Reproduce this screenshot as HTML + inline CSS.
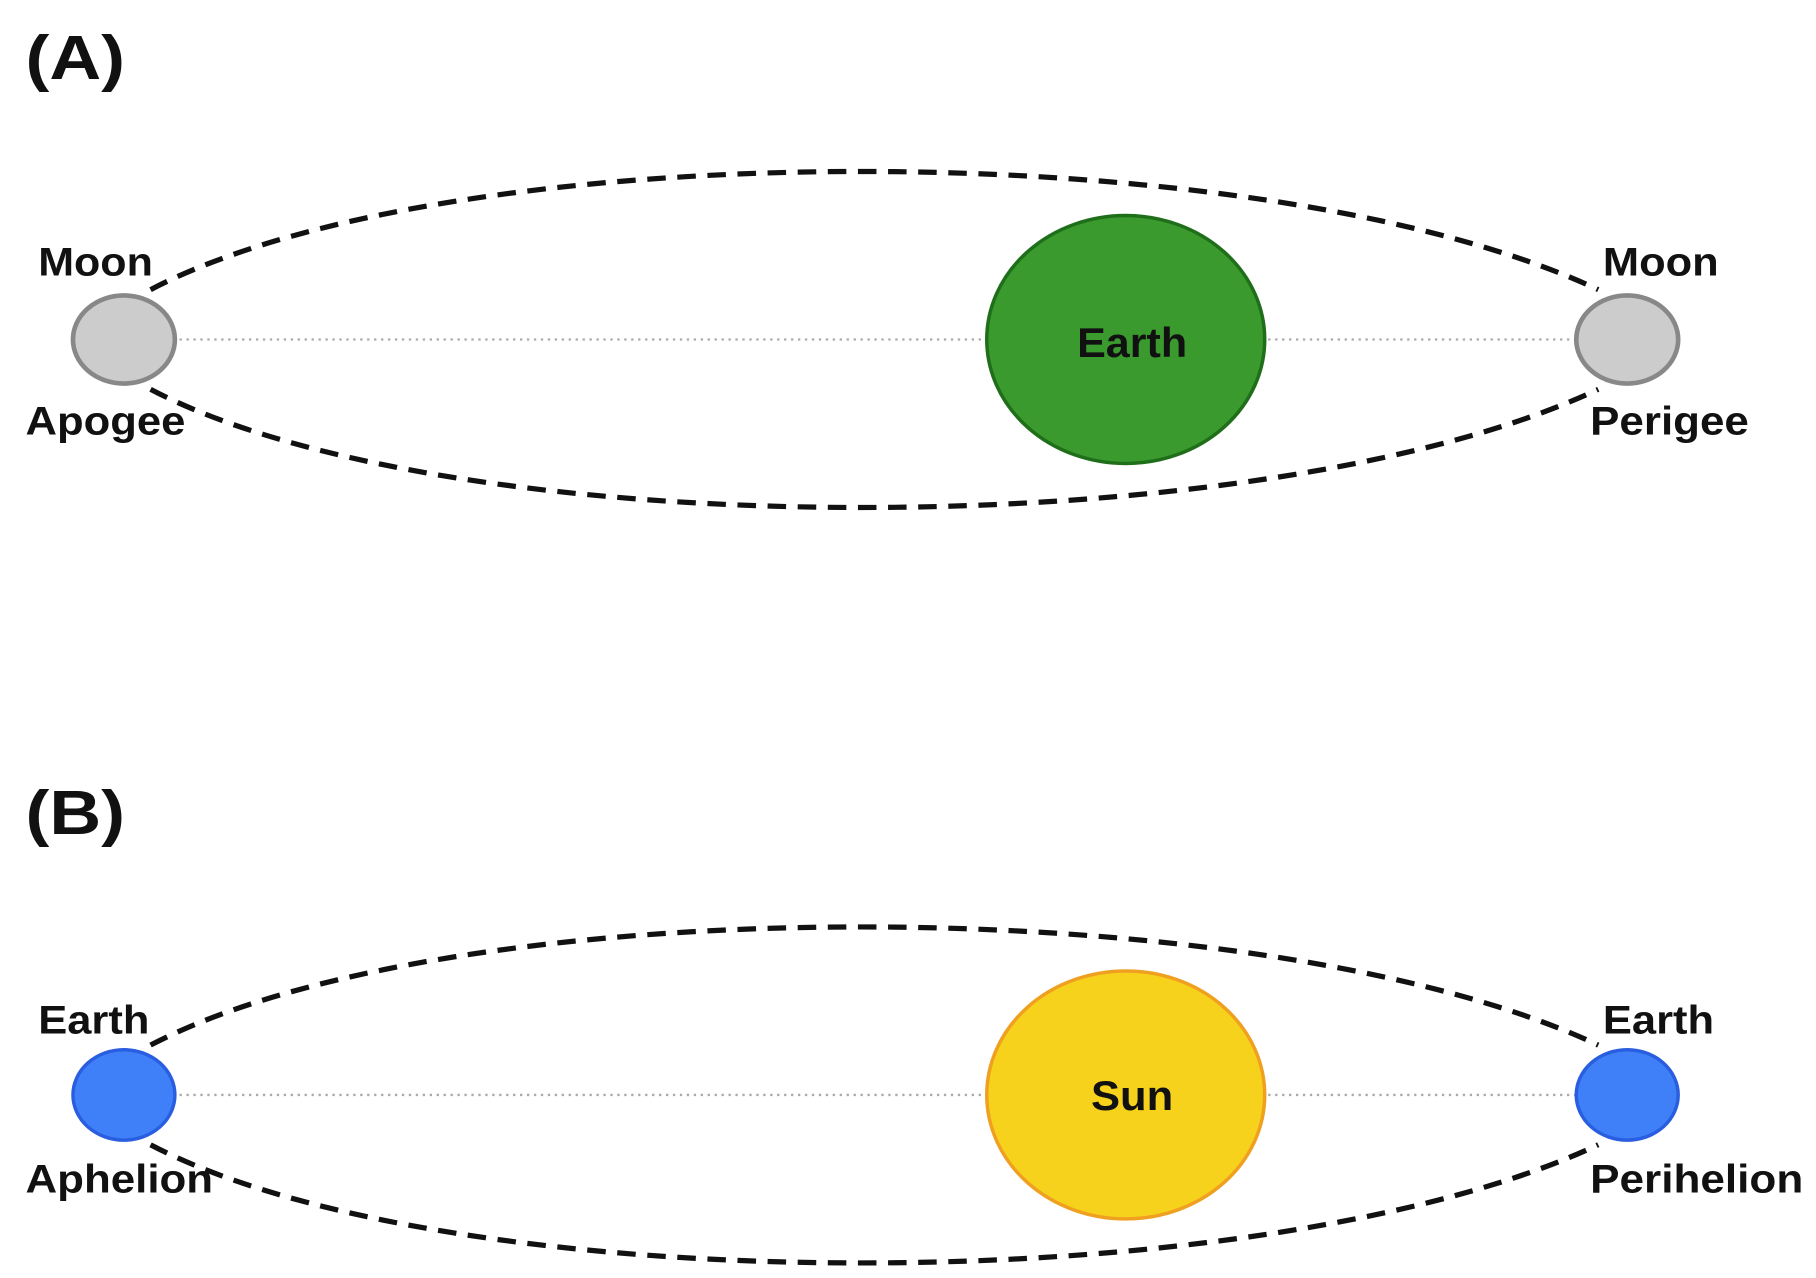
<!DOCTYPE html>
<html><head><style>html,body{margin:0;padding:0;background:#fff;width:1816px;height:1278px;overflow:hidden}</style></head>
<body>
<svg width="1816" height="1278" viewBox="0 0 1568 1103" preserveAspectRatio="none" xmlns="http://www.w3.org/2000/svg" font-family="Liberation Sans, sans-serif" font-weight="bold">
<rect width="1568" height="1103" fill="#fff"/>
<!-- A -->
<text x="22" y="68" font-size="54" fill="#111" textLength="86" lengthAdjust="spacingAndGlyphs">(A)</text>
<path d="M130,250 C390,114 1090,114 1380,250" fill="none" stroke="#111" stroke-width="4.5" stroke-dasharray="16 10"/>
<path d="M130,336 C390,472 1090,472 1380,336" fill="none" stroke="#111" stroke-width="4.5" stroke-dasharray="16 10"/>
<line x1="155" y1="293" x2="850" y2="293" stroke="#aaa" stroke-width="2" stroke-dasharray="2 4"/>
<line x1="1095" y1="293" x2="1360" y2="293" stroke="#aaa" stroke-width="2" stroke-dasharray="2 4"/>
<ellipse cx="972" cy="293" rx="120" ry="107" fill="#3a9a2e" stroke="#1f6e1a" stroke-width="3"/>
<text x="930" y="308" font-size="36" fill="#111" textLength="95" lengthAdjust="spacingAndGlyphs">Earth</text>
<ellipse cx="107" cy="293" rx="44" ry="38" fill="#cccccc" stroke="#888" stroke-width="4"/>
<ellipse cx="1405" cy="293" rx="44" ry="38" fill="#cccccc" stroke="#888" stroke-width="4"/>
<text x="33" y="238" font-size="34" fill="#111" textLength="99" lengthAdjust="spacingAndGlyphs">Moon</text>
<text x="22" y="375" font-size="34" fill="#111" textLength="138" lengthAdjust="spacingAndGlyphs">Apogee</text>
<text x="1384" y="238" font-size="34" fill="#111" textLength="100" lengthAdjust="spacingAndGlyphs">Moon</text>
<text x="1373" y="375" font-size="34" fill="#111" textLength="137" lengthAdjust="spacingAndGlyphs">Perigee</text>
<!-- B -->
<text x="22" y="720" font-size="54" fill="#111" textLength="86" lengthAdjust="spacingAndGlyphs">(B)</text>
<path d="M130,902 C390,766 1090,766 1380,902" fill="none" stroke="#111" stroke-width="4.5" stroke-dasharray="16 10"/>
<path d="M130,988 C390,1124 1090,1124 1380,988" fill="none" stroke="#111" stroke-width="4.5" stroke-dasharray="16 10"/>
<line x1="155" y1="945" x2="850" y2="945" stroke="#aaa" stroke-width="2" stroke-dasharray="2 4"/>
<line x1="1095" y1="945" x2="1360" y2="945" stroke="#aaa" stroke-width="2" stroke-dasharray="2 4"/>
<ellipse cx="972" cy="945" rx="120" ry="107" fill="#f7d21c" stroke="#f0a020" stroke-width="3"/>
<text x="942" y="958" font-size="36" fill="#111" textLength="71" lengthAdjust="spacingAndGlyphs">Sun</text>
<ellipse cx="107" cy="945" rx="44" ry="39" fill="#3f80f8" stroke="#2a5ee0" stroke-width="3"/>
<ellipse cx="1405" cy="945" rx="44" ry="39" fill="#3f80f8" stroke="#2a5ee0" stroke-width="3"/>
<text x="33" y="892" font-size="34" fill="#111" textLength="96" lengthAdjust="spacingAndGlyphs">Earth</text>
<text x="22" y="1029" font-size="34" fill="#111" textLength="162" lengthAdjust="spacingAndGlyphs">Aphelion</text>
<text x="1384" y="892" font-size="34" fill="#111" textLength="96" lengthAdjust="spacingAndGlyphs">Earth</text>
<text x="1373" y="1029" font-size="34" fill="#111" textLength="184" lengthAdjust="spacingAndGlyphs">Perihelion</text>
</svg>
</body></html>
